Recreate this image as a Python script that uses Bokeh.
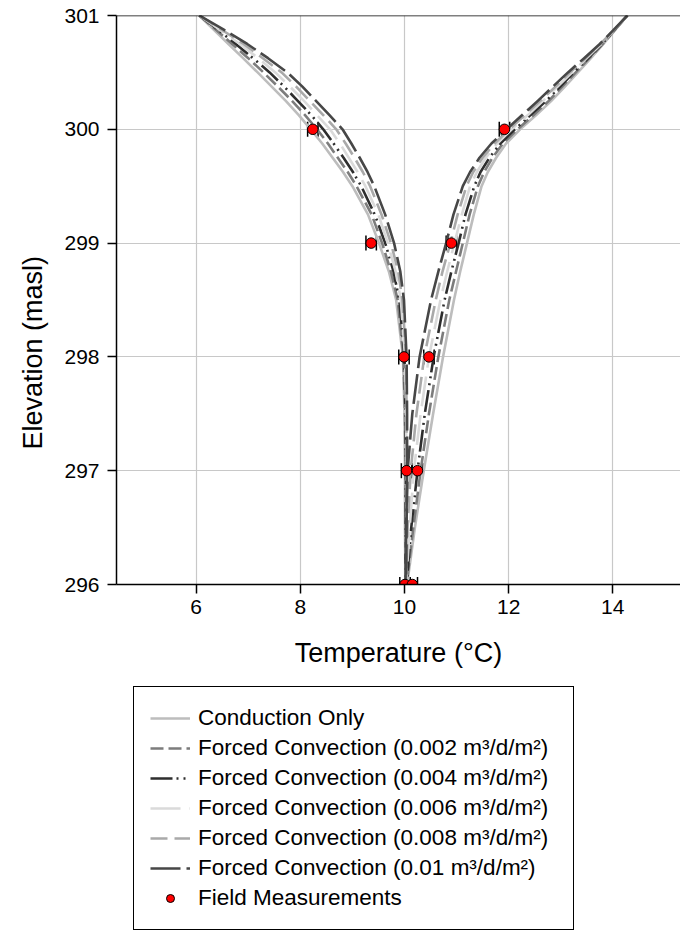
from bokeh.plotting import figure
from bokeh.layouts import column
from bokeh.models import (FixedTicker, Span, Whisker, TeeHead, ColumnDataSource,
                          Legend, LegendItem, Range1d, Title)
from bokeh.embed import file_html
from bokeh.resources import INLINE

# ---------------- data ----------------
elevation = [301, 300.875, 300.75, 300.625, 300.5, 300.375, 300.25, 300.125, 300,
             299.875, 299.75, 299.625, 299.5, 299.25, 299, 298.75, 298.5,
             298, 297.5, 297, 296.5, 296]

cond_left = [6.06, 6.34, 6.62, 6.90, 7.18, 7.45, 7.72, 7.97, 8.20, 8.42, 8.62, 8.82, 9.00,
             9.30, 9.51, 9.70, 9.84, 9.97, 10.00, 10.01, 10.01, 10.02]
f002_left = [6.06, 6.38, 6.69, 7.00, 7.29, 7.57, 7.84, 8.09, 8.32, 8.53, 8.72, 8.91, 9.08,
             9.37, 9.57, 9.74, 9.87, 9.98, 10.01, 10.02, 10.02, 10.02]
f004_left = [6.06, 6.42, 6.76, 7.09, 7.41, 7.69, 7.95, 8.21, 8.44, 8.64, 8.83, 9.01, 9.17,
             9.43, 9.63, 9.79, 9.90, 10.00, 10.02, 10.03, 10.02, 10.02]
f006_left = [6.06, 6.45, 6.84, 7.19, 7.52, 7.80, 8.07, 8.32, 8.57, 8.76, 8.93, 9.10, 9.25,
             9.50, 9.68, 9.83, 9.93, 10.01, 10.03, 10.04, 10.03, 10.03]
f008_left = [6.06, 6.49, 6.91, 7.28, 7.64, 7.92, 8.18, 8.44, 8.69, 8.87, 9.04, 9.20, 9.34,
             9.56, 9.74, 9.88, 9.96, 10.03, 10.04, 10.04, 10.03, 10.03]
f010_left = [6.06, 6.53, 6.98, 7.38, 7.75, 8.04, 8.30, 8.56, 8.81, 8.98, 9.14, 9.29, 9.42,
             9.63, 9.80, 9.92, 9.99, 10.04, 10.05, 10.05, 10.04, 10.03]

cond_right = [14.28, 14.05, 13.82, 13.58, 13.33, 13.08, 12.82, 12.53, 12.22, 11.95, 11.76,
              11.60, 11.48, 11.33, 11.20, 11.07, 10.95, 10.74, 10.55, 10.37, 10.20, 10.05]
f002_right = [14.28, 14.04, 13.81, 13.55, 13.29, 13.03, 12.77, 12.48, 12.17, 11.89, 11.69,
              11.53, 11.41, 11.25, 11.12, 10.99, 10.86, 10.65, 10.47, 10.31, 10.17, 10.04]
f004_right = [14.28, 14.04, 13.79, 13.53, 13.25, 12.99, 12.72, 12.42, 12.12, 11.84, 11.63,
              11.46, 11.34, 11.17, 11.04, 10.90, 10.77, 10.56, 10.39, 10.25, 10.13, 10.04]
f006_right = [14.28, 14.03, 13.78, 13.50, 13.22, 12.94, 12.66, 12.37, 12.06, 11.78, 11.56,
              11.39, 11.26, 11.10, 10.96, 10.82, 10.69, 10.47, 10.31, 10.18, 10.10, 10.03]
f008_right = [14.28, 14.03, 13.76, 13.48, 13.18, 12.90, 12.61, 12.31, 12.01, 11.73, 11.50,
              11.32, 11.19, 11.02, 10.88, 10.73, 10.60, 10.38, 10.23, 10.12, 10.06, 10.03]
f010_right = [14.28, 14.02, 13.75, 13.45, 13.14, 12.85, 12.56, 12.26, 11.96, 11.67, 11.44,
              11.26, 11.12, 10.94, 10.80, 10.65, 10.51, 10.29, 10.15, 10.06, 10.03, 10.02]

meas_temp = [8.24, 11.92, 9.36, 10.90, 9.99, 10.47, 10.04, 10.25, 10.01, 10.15]
meas_elev = [300, 300, 299, 299, 298, 298, 297, 297, 296, 296]
meas_err = [0.1, 0.1, 0.1, 0.1, 0.1, 0.1, 0.1, 0.1, 0.1, 0.1]

series_labels = [
    "Conduction Only",
    "Forced Convection (0.002 m\u00b3/d/m\u00b2)",
    "Forced Convection (0.004 m\u00b3/d/m\u00b2)",
    "Forced Convection (0.006 m\u00b3/d/m\u00b2)",
    "Forced Convection (0.008 m\u00b3/d/m\u00b2)",
    "Forced Convection (0.01 m\u00b3/d/m\u00b2)",
]
meas_label = "Field Measurements"
x_ticks = [6, 8, 10, 12, 14]
y_ticks = [296, 297, 298, 299, 300, 301]

FONT = "Liberation Sans"

styles = [
    ("#bdbdbd", "solid"),
    ("#7c7c7c", "13 5"),
    ("#2e2e2e", "22 4 2 5 2 5"),
    ("#dadada", "30 9"),
    ("#a9a9a9", "17 7"),
    ("#474747", "30 6"),
]
lefts = [cond_left, f002_left, f004_left, f006_left, f008_left, f010_left]
rights = [cond_right, f002_right, f004_right, f006_right, f008_right, f010_right]

# ---------------- main chart ----------------
MAIN_H = 680
p = figure(width=680, height=MAIN_H,
           x_range=Range1d(4.47, 15.30), y_range=Range1d(296, 301),
           output_backend="svg", toolbar_location=None,
           min_border_left=116, min_border_right=0, min_border_top=15,
           min_border_bottom=MAIN_H - 584)
p.outline_line_color = None
p.background_fill_color = "white"
p.border_fill_color = "white"

for ax in (p.xaxis[0], p.yaxis[0]):
    ax.axis_line_color = "black"
    ax.axis_line_width = 1.5
    ax.major_tick_line_color = "black"
    ax.major_tick_line_width = 1.5
    ax.major_tick_out = 9
    ax.major_tick_in = 0
    ax.minor_tick_line_color = None
    ax.major_label_text_font = FONT
    ax.major_label_text_font_size = "21px"
    ax.major_label_text_color = "black"
    ax.axis_label_text_font = FONT
    ax.axis_label_text_font_size = "27px"
    ax.axis_label_text_font_style = "normal"
    ax.axis_label_text_color = "black"

p.xaxis.ticker = FixedTicker(ticks=x_ticks)
p.yaxis.ticker = FixedTicker(ticks=y_ticks)
p.xaxis.axis_label = "Temperature (\u00b0C)"
p.xaxis.major_label_standoff = 6
p.xaxis.axis_label_standoff = 21
p.yaxis.major_label_standoff = 8

# y-axis title, placed like the reference (starting low on the axis)
ytitle = Title(text="Elevation (masl)", align="left", offset=135,
               vertical_align="middle", standoff=25,
               text_font=FONT, text_font_size="27px", text_font_style="normal",
               text_color="black")
p.add_layout(ytitle, "left")

p.xgrid.ticker = FixedTicker(ticks=x_ticks)
p.ygrid.ticker = FixedTicker(ticks=y_ticks)
for g in (p.xgrid[0], p.ygrid[0]):
    g.grid_line_color = "#c8c8c8"
    g.grid_line_width = 1.2

p.add_layout(Span(location=301, dimension="width", line_color="black", line_width=1.5))

for (color, dash), lx, rx in zip(styles, lefts, rights):
    p.multi_line(xs=[lx, rx], ys=[elevation, elevation], line_color=color,
                 line_width=2.6, line_dash=dash, line_join="round")

src = ColumnDataSource(dict(
    x=meas_temp, y=meas_elev,
    lo=[t - e for t, e in zip(meas_temp, meas_err)],
    hi=[t + e for t, e in zip(meas_temp, meas_err)],
))
wh = Whisker(base="y", lower="lo", upper="hi", dimension="width", source=src,
             line_color="black", line_width=1.5,
             lower_head=TeeHead(size=15, line_color="black", line_width=1.5),
             upper_head=TeeHead(size=15, line_color="black", line_width=1.5))
p.add_layout(wh)
p.scatter(x="x", y="y", source=src, size=10.5, fill_color="red",
          line_color="black", line_width=1)

# ---------------- legend panel (same series, drawn out of view) ----------------
LEG_H = 930 - MAIN_H
q = figure(width=680, height=LEG_H, x_range=Range1d(0, 1), y_range=Range1d(0, 1),
           output_backend="svg", toolbar_location=None,
           x_axis_type=None, y_axis_type=None,
           min_border=0, min_border_left=0, min_border_right=0,
           min_border_top=0, min_border_bottom=0)
q.outline_line_color = None
q.xgrid.visible = False
q.ygrid.visible = False

leg_renderers = []
for (color, dash), lx, rx in zip(styles, lefts, rights):
    r = q.multi_line(xs=[lx, rx], ys=[elevation, elevation], line_color=color,
                     line_width=2.6, line_dash=dash)
    leg_renderers.append(r)
rm = q.scatter(x="x", y="y", source=src, size=10, fill_color="red",
               line_color="black", line_width=1)

items = [LegendItem(label=lab, renderers=[r]) for lab, r in zip(series_labels, leg_renderers)]
items.append(LegendItem(label=meas_label, renderers=[rm]))

pad = 16
row_h = 30
legend = Legend(items=items, location=(17, 0),
                padding=pad, spacing=0, margin=0,
                glyph_width=40, glyph_height=20, label_height=row_h,
                label_standoff=8, label_width=359,
                label_text_font=FONT, label_text_font_size="22.5px",
                label_text_color="black",
                border_line_color="black", border_line_width=1.5,
                border_line_alpha=1.0,
                background_fill_color="white", background_fill_alpha=1.0)
q.add_layout(legend)

layout = column(p, q, spacing=0)
open("out.html", "w").write(file_html(layout, INLINE))
